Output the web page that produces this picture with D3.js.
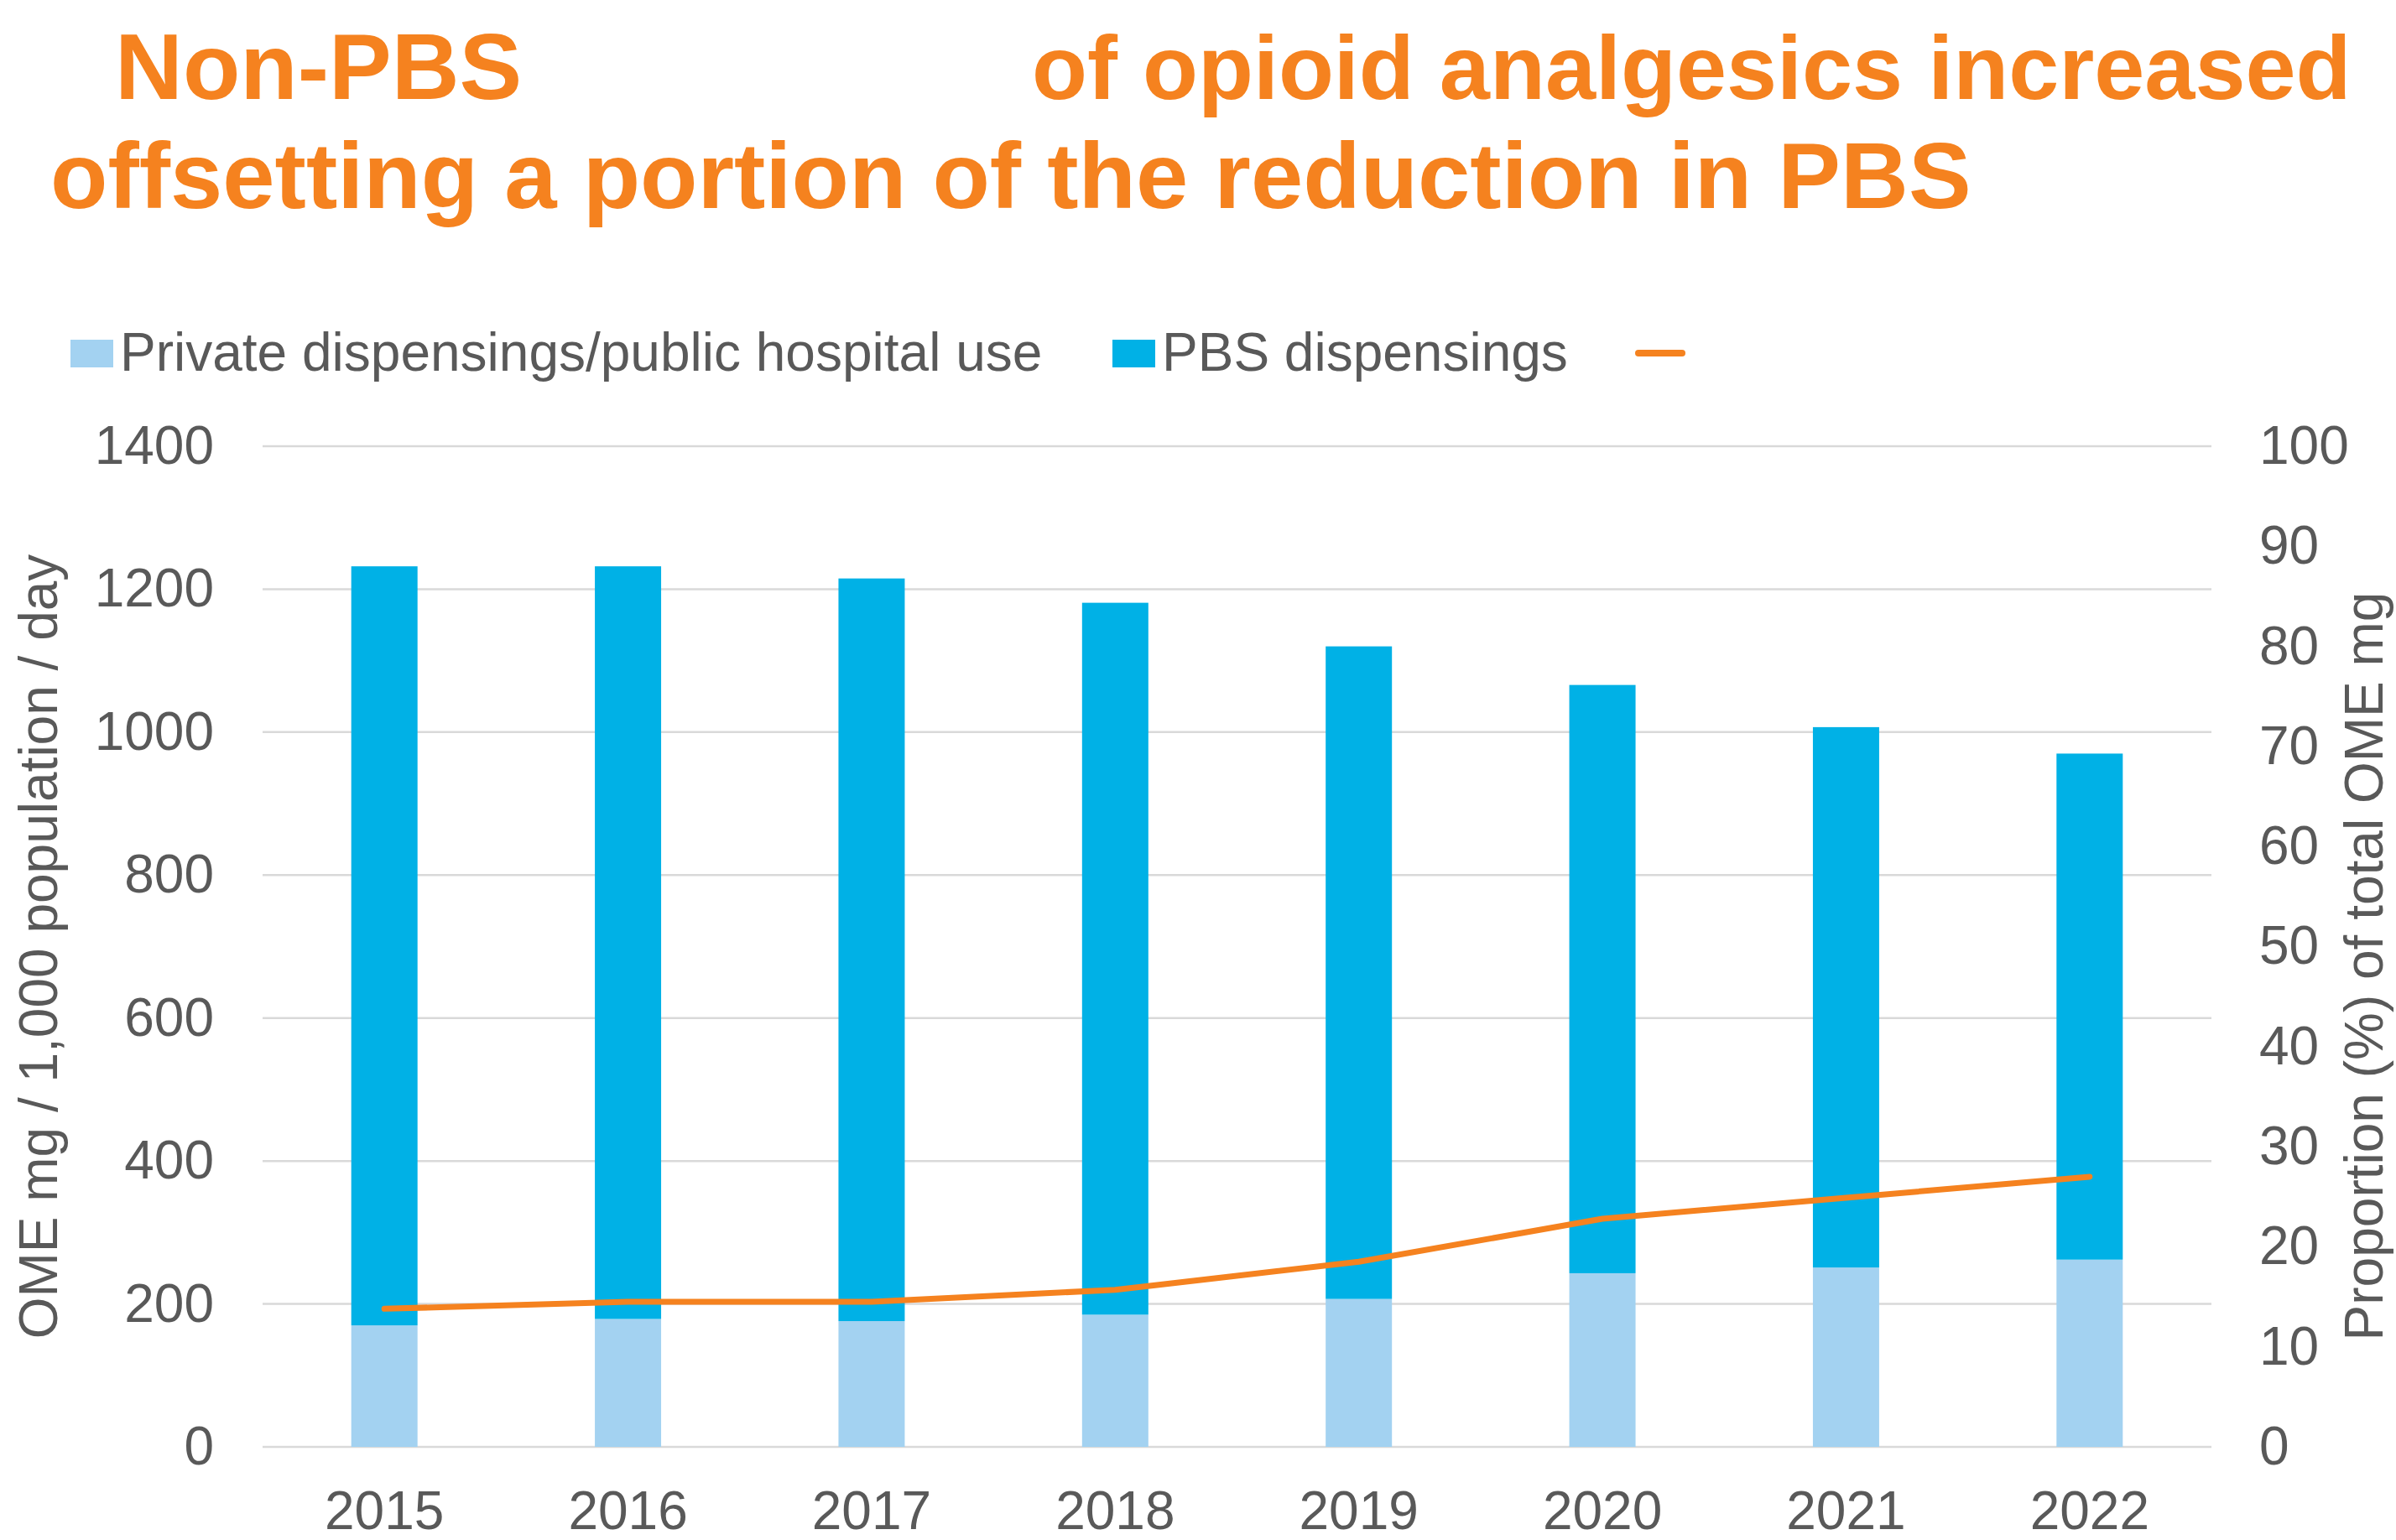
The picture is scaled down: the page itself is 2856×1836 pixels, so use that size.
<!DOCTYPE html>
<html>
<head>
<meta charset="utf-8">
<script src="https://cdn.jsdelivr.net/npm/d3@7"></script>
<style>
  body { margin: 0; background: #fff; }
  svg { display: block; font-family: "Liberation Sans", Arial, sans-serif; }
</style>
</head>
<body>
<svg id="chart" width="2856" height="1836"></svg>
<script>
// data
let years = ['2015', '2016', '2017', '2018', '2019', '2020', '2021', '2022'];
let privateUse = [170, 179, 176, 185, 207, 243, 251, 262];
let pbsUse = [1062, 1053, 1039, 996, 913, 823, 756, 708];
let privateShare = [13.8, 14.5, 14.5, 15.7, 18.5, 22.8, 24.9, 27.0];

let leftTicks = [0, 200, 400, 600, 800, 1000, 1200, 1400];
let rightTicks = [0, 10, 20, 30, 40, 50, 60, 70, 80, 90, 100];

let seriesNames = ['Private dispensings/public hospital use', 'PBS dispensings'];
let seriesColours = ['#A3D2F1', '#00B1E6'];
let lineColour = '#F5821F';
let textColour = '#595959';

let margin = {left: 313, right: 2636, top: 532, bottom: 1725};

let svg = d3.select('#chart');

let x = d3.scaleBand()
  .domain(years)
  .range([margin.left, margin.right])
  .paddingInner(0.728)
  .paddingOuter(0.364);

let y = d3.scaleLinear().domain([0, 1400]).range([margin.bottom, margin.top]);
let y2 = d3.scaleLinear().domain([0, 100]).range([margin.bottom, margin.top]);

// gridlines
svg.append('g')
  .attr('class', 'grid')
  .selectAll('line')
  .data(leftTicks)
  .enter()
  .append('line')
  .attr('x1', margin.left)
  .attr('x2', margin.right)
  .attr('y1', d => y(d))
  .attr('y2', d => y(d))
  .style('stroke', '#D9D9D9')
  .style('stroke-width', '2.5px');

// stacked bars
let table = years.map((yr, i) => ({year: yr, priv: privateUse[i], pbs: pbsUse[i]}));
let stacked = d3.stack().keys(['priv', 'pbs'])(table);

svg.append('g')
  .attr('class', 'bars')
  .selectAll('g.series')
  .data(stacked)
  .enter()
  .append('g')
  .attr('class', 'series')
  .style('fill', (d, i) => seriesColours[i])
  .selectAll('rect')
  .data(d => d)
  .enter()
  .append('rect')
  .attr('x', d => x(d.data.year))
  .attr('width', x.bandwidth())
  .attr('y', d => y(d[1]))
  .attr('height', d => y(d[0]) - y(d[1]));

// share line on the right axis
let line = d3.line()
  .x((d, i) => x(years[i]) + x.bandwidth() / 2)
  .y(d => y2(d));

svg.append('path')
  .datum(privateShare)
  .attr('d', line)
  .style('fill', 'none')
  .style('stroke', lineColour)
  .style('stroke-width', '7px')
  .style('stroke-linejoin', 'round')
  .style('stroke-linecap', 'round');

// axes
function styleAxis(g){
  g.select('.domain').remove();
  g.selectAll('.tick line').remove();
  g.selectAll('text')
    .style('font-size', '64px')
    .style('fill', textColour)
    .style('font-family', '"Liberation Sans", Arial, sans-serif');
}

svg.append('g')
  .attr('transform', `translate(${margin.left},0)`)
  .call(d3.axisLeft(y).tickValues(leftTicks).tickSize(0).tickPadding(58).tickFormat(d3.format('d')))
  .call(styleAxis);

svg.append('g')
  .attr('transform', `translate(${margin.right},0)`)
  .call(d3.axisRight(y2).tickValues(rightTicks).tickSize(0).tickPadding(57).tickFormat(d3.format('d')))
  .call(styleAxis);

svg.append('g')
  .attr('transform', `translate(0,${margin.bottom})`)
  .call(d3.axisBottom(x).tickSize(0))
  .call(styleAxis)
  .selectAll('text')
  .attr('dy', 0)
  .attr('y', 98);

// axis titles
svg.append('text')
  .attr('transform', `translate(68,${(margin.top + margin.bottom) / 2}) rotate(-90)`)
  .attr('text-anchor', 'middle')
  .style('font-size', '64px')
  .style('fill', textColour)
  .text('OME mg / 1,000 population / day');

svg.append('text')
  .attr('transform', 'translate(2840,1152) rotate(-90)')
  .attr('text-anchor', 'middle')
  .style('font-size', '64px')
  .style('fill', textColour)
  .text('Proportion (%) of total OME mg');

// legend
let legend = svg.append('g').attr('class', 'legend');
let legendX = [84, 1326];

seriesNames.forEach((name, i) => {
  legend.append('rect')
    .attr('x', legendX[i])
    .attr('y', 405)
    .attr('width', 51)
    .attr('height', 33)
    .style('fill', seriesColours[i]);
  legend.append('text')
    .attr('x', legendX[i] + 59)
    .attr('y', 442)
    .style('font-size', '64px')
    .style('fill', textColour)
    .text(name);
});

legend.append('line')
  .attr('x1', 1953)
  .attr('x2', 2005)
  .attr('y1', 421)
  .attr('y2', 421)
  .style('stroke', lineColour)
  .style('stroke-width', '8px')
  .style('stroke-linecap', 'round');

// title
let title = svg.append('g')
  .attr('class', 'title')
  .style('font-size', '112px')
  .style('font-weight', 'bold')
  .style('fill', lineColour);

title.append('text').attr('x', 137).attr('y', 118).text('Non-PBS');
title.append('text').attr('x', 1230).attr('y', 118).style('font-size', '108px').text('of opioid analgesics increased');
title.append('text').attr('x', 60).attr('y', 248).text('offsetting a portion of the reduction in PBS');
</script>
</body>
</html>
